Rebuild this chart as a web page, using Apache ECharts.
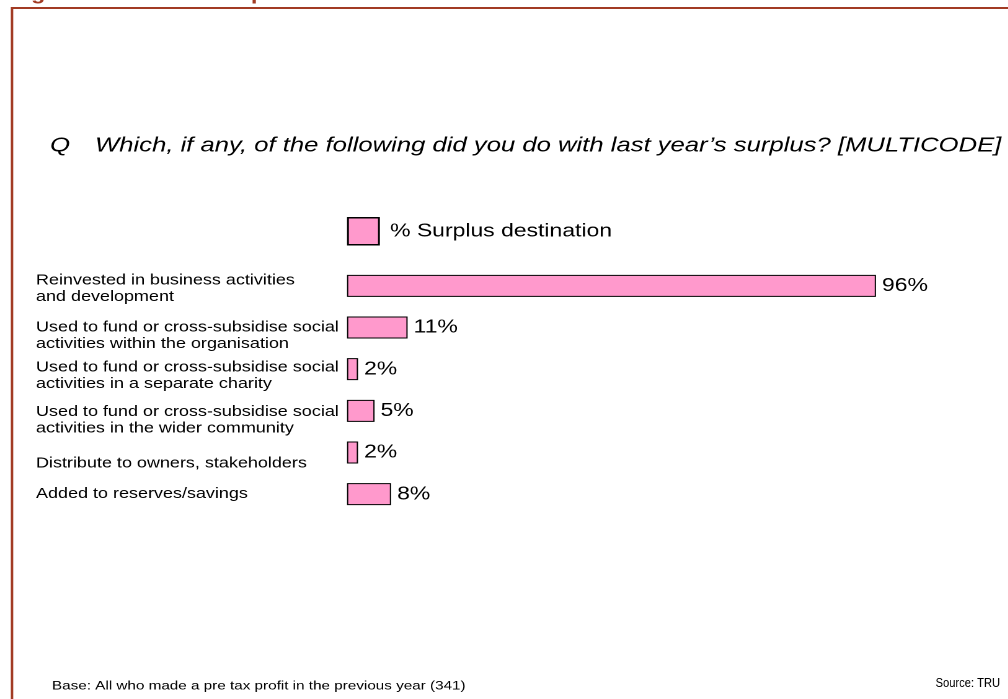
<!DOCTYPE html>
<html>
<head>
<meta charset="utf-8">
<style>
  html, body { margin: 0; padding: 0; background: #fff; overflow: hidden; }
  #wrap { width: 1008px; height: 699px; overflow: hidden; }
  /* the chart is laid out narrow and widened horizontally */
  #chart { height: 699px; transform-origin: 0 0; }
</style>
<script src="https://cdn.jsdelivr.net/npm/echarts@6/dist/echarts.min.js"></script>
</head>
<body>
<div id="wrap"><div id="chart"></div></div>
<script>
// Survey answers: what organisations did with last year's surplus
const categories = [
  'Reinvested in business activities\nand development',
  'Used to fund or cross-subsidise social\nactivities within the organisation',
  'Used to fund or cross-subsidise social\nactivities in a separate charity',
  'Used to fund or cross-subsidise social\nactivities in the wider community',
  'Distribute to owners, stakeholders',
  'Added to reserves/savings'
];
const surplusPct = [96, 11, 2, 5, 2, 8];
const seriesName = '% Surplus destination';

// vertical nudges for the category labels, in px (positive = down)
const labelNudge = [3, 8, 6.5, 9.5, 11, 0];

// horizontal stretch applied to the whole drawing
const SX = 1.24;
const W = 1008 / SX;
const X = (px) => px / SX;

const el = document.getElementById('chart');
el.style.width = W + 'px';
el.style.transform = 'scaleX(' + SX + ')';

const chart = echarts.init(el, null, { devicePixelRatio: 2 });

const FONT = '"Liberation Sans", Arial, sans-serif';
const NARROW = '"Liberation Sans Narrow", "Arial Narrow", sans-serif';

// rich styles: an empty spacer line above (or below) each label shifts it
const rich = { b: { fontSize: 14.5, lineHeight: 16.5, color: '#000', fontFamily: FONT } };
labelNudge.forEach((d, i) => {
  const h = Math.max(1, Math.abs(2 * d));
  rich['s' + i] = { height: h, lineHeight: h, fontSize: 1 };
});

chart.setOption({
  animation: false,
  backgroundColor: '#ffffff',
  textStyle: { fontFamily: FONT },
  graphic: [
    {
      type: 'rect',
      shape: { x: X(12), y: 8, width: W, height: 800 },
      style: { fill: 'none', stroke: '#a23b24', lineWidth: 2 }
    },
    {
      type: 'text', x: X(10), y: -15,
      style: { text: 'Figure 6.2: Use of surplus', fill: '#a23b24', font: 'bold 19px ' + FONT }
    },
    {
      type: 'text', x: X(50), y: 135,
      style: { text: 'Q', fill: '#000', font: 'italic 20.7px ' + FONT }
    },
    {
      type: 'text', x: X(95), y: 135,
      style: {
        text: 'Which, if any, of the following did you do with last year\u2019s surplus? [MULTICODE]',
        fill: '#000', font: 'italic 20.7px ' + FONT
      }
    },
    {
      type: 'text', x: X(52), y: 680,
      style: {
        text: 'Base: All who made a pre tax profit in the previous year (341)',
        fill: '#000', font: '12.3px ' + NARROW
      }
    },
    {
      type: 'text', x: X(1000), y: 677, scaleX: 0.72,
      style: { text: 'Source: TRU', fill: '#000', font: '12.5px ' + NARROW, align: 'right' }
    }
  ],
  legend: {
    data: [seriesName],
    left: X(347), top: 217,
    padding: 0,
    icon: 'rect',
    itemWidth: X(31), itemHeight: 27,
    itemGap: X(10),
    textStyle: { fontSize: 18.5, color: '#000', fontFamily: FONT, padding: [0, 0, 0, X(5)] },
    itemStyle: { borderColor: '#000', borderWidth: 1.5 }
  },
  grid: {
    left: X(347), top: 265, width: X(551), height: 250,
    containLabel: false, outerBoundsMode: 'none'
  },
  xAxis: { type: 'value', min: 0, max: 100, show: false },
  yAxis: {
    type: 'category',
    inverse: true,
    data: categories,
    axisLine: { show: false },
    axisTick: { show: false },
    splitLine: { show: false },
    axisLabel: {
      align: 'left',
      margin: X(347 - 36),
      interval: 0,
      formatter: (val, idx) => {
        const body = val.split('\n').map((l) => '{b|' + l + '}');
        const spacer = '{s' + idx + '|}';
        if (labelNudge[idx] > 0) body.unshift(spacer);
        else if (labelNudge[idx] < 0) body.push(spacer);
        return body.join('\n');
      },
      rich: rich
    }
  },
  series: [{
    name: seriesName,
    type: 'bar',
    data: surplusPct,
    barWidth: 22,
    itemStyle: { color: '#ff99cc', borderColor: '#000', borderWidth: 1 },
    label: {
      show: true,
      position: 'right',
      distance: X(6),
      formatter: '{c}%',
      fontSize: 18.5,
      color: '#000',
      fontFamily: FONT
    }
  }]
});
</script>
</body>
</html>
